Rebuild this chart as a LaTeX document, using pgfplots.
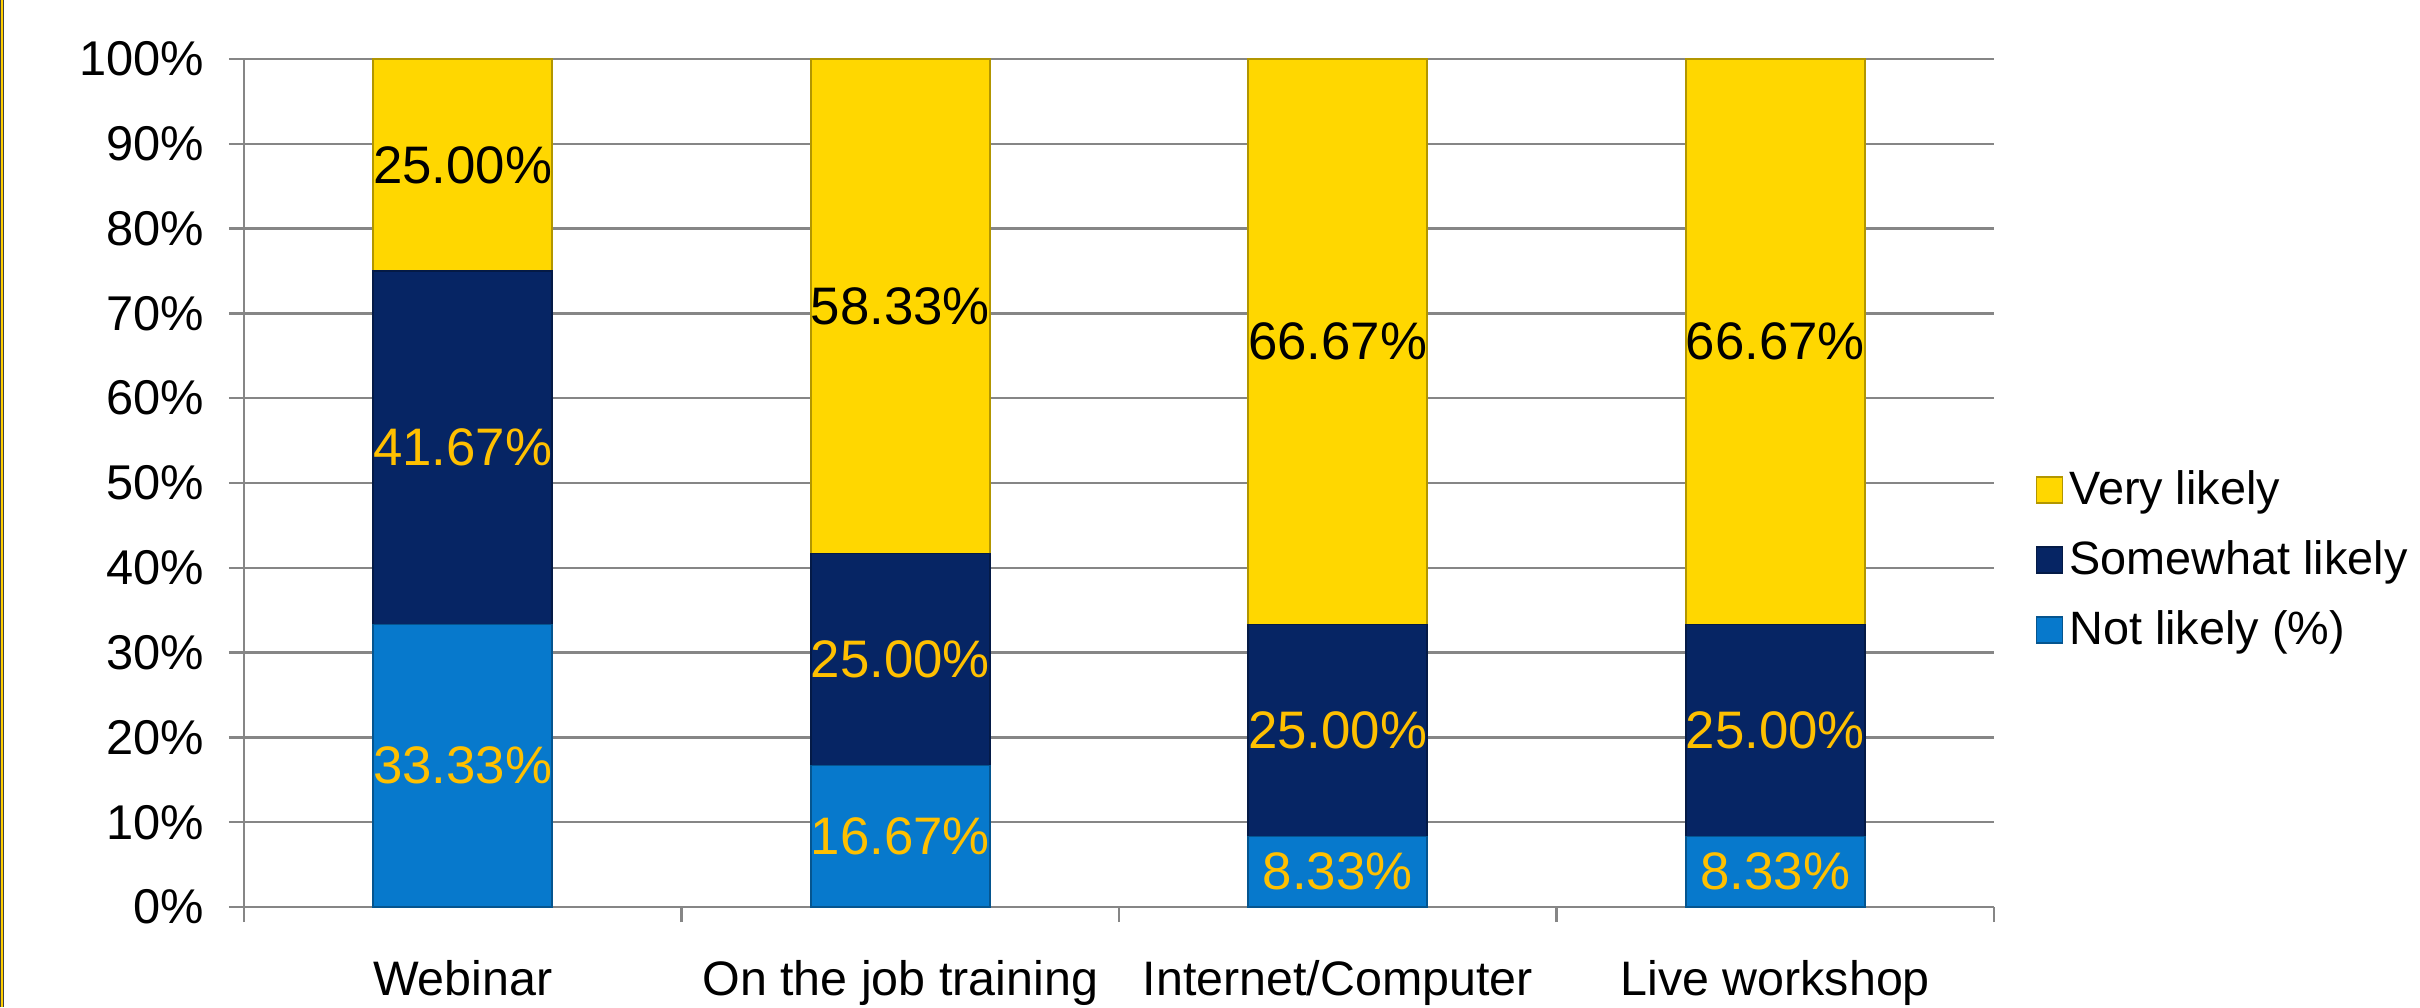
\documentclass[border=0pt]{standalone}
\usepackage{pgfplots}
\pgfplotsset{compat=1.18}
\usepackage{fontspec}
\setmainfont{Liberation Sans}
\definecolor{vlik}{RGB}{255,215,0}
\definecolor{slik}{RGB}{6,37,100}
\definecolor{nlik}{RGB}{7,121,204}
\definecolor{lblgold}{RGB}{255,192,0}
\definecolor{gridgray}{RGB}{134,134,134}
\begin{document}
\begin{tikzpicture}
\path[use as bounding box] (0,0) rectangle (605pt,251.75pt);
\fill[black!75] (0,0) rectangle (1pt,251.75pt);
\fill[vlik!90!orange] (0.2pt,0) rectangle (0.75pt,251.75pt);
\begin{axis}[
 at={(61pt,25pt)}, anchor=south west, scale only axis, width=437.5pt, height=212pt,
 ybar stacked, bar width=44.75pt,
 xmin=-0.5, xmax=3.5, ymin=0, ymax=100,
 axis lines=left, axis line style={-, draw=gridgray, line width=0.6pt},
 ymajorgrids, grid style={gridgray, line width=0.6pt},
 ytick={0,10,20,30,40,50,60,70,80,90,100},
 yticklabels={0\%,10\%,20\%,30\%,40\%,50\%,60\%,70\%,80\%,90\%,100\%},
 xtick={0,1,2,3},
 xticklabels={Webinar, On the job training, Internet/Computer, Live workshop},
 minor xtick={-0.5,0.5,1.5,2.5,3.5},
 tick align=outside, major tick length=3.75pt, minor tick length=3.75pt,
 major x tick style={draw=none}, minor x tick style={gridgray, line width=0.6pt},
 ytick style={gridgray, line width=0.6pt},
 yticklabel style={font=\fontsize{12.2}{14}\selectfont, xshift=-2.7pt},
 xticklabel style={font=\fontsize{12.1}{14}\selectfont, yshift=-6pt},
 /pgf/number format/assume math mode=true,
 point meta=explicit,
 nodes near coords={\pgfmathprintnumber[fixed,fixed zerofill,precision=2]{\pgfplotspointmeta}\%},
 every node near coord/.append style={anchor=center, font=\fontsize{13.2}{15}\selectfont},
 reverse legend,
 legend cell align=left,
 legend style={at={(1.0234,0.409)}, anchor=west, draw=none, fill=none,
   font=\fontsize{11.7}{13}\selectfont, row sep=4.5pt, inner sep=0pt,
   nodes={inner sep=1.5pt}},
 legend image code/.code={\draw[#1] (0pt,-3.25pt) rectangle (6.5pt,3.25pt);},
]
\addplot[fill=nlik, draw=nlik!70!black, line width=0.4pt, nodes near coords style={text=lblgold}]
 coordinates {(0,33.33) [33.33] (1,16.67) [16.67] (2,8.33) [8.33] (3,8.33) [8.33]};
\addlegendentry{Not likely (\%)}
\addplot[fill=slik, draw=slik!70!black, line width=0.4pt, nodes near coords style={text=lblgold}]
 coordinates {(0,41.67) [41.67] (1,25.00) [25.00] (2,25.00) [25.00] (3,25.00) [25.00]};
\addlegendentry{Somewhat likely}
\addplot[fill=vlik, draw=vlik!70!black, line width=0.4pt, nodes near coords style={text=black}]
 coordinates {(0,25.00) [25.00] (1,58.33) [58.33] (2,66.67) [66.67] (3,66.67) [66.67]};
\addlegendentry{Very likely}
\end{axis}
\end{tikzpicture}
\end{document}
